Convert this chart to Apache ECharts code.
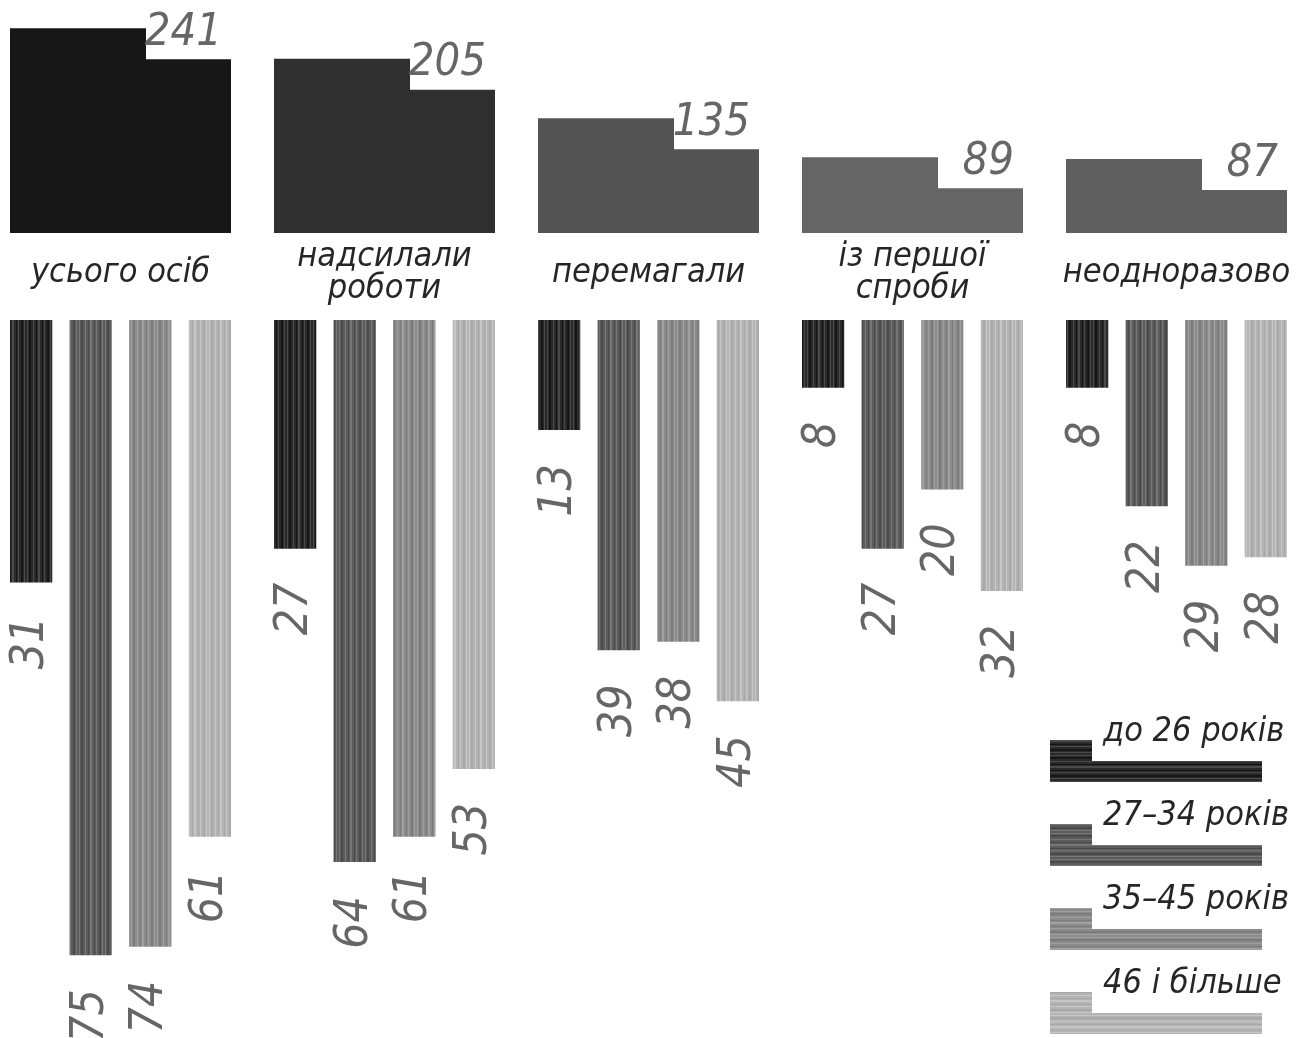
<!DOCTYPE html>
<html>
<head>
<meta charset="utf-8">
<script src="https://cdn.jsdelivr.net/npm/echarts@6/dist/echarts.min.js"></script>
<style>
  html, body { margin: 0; padding: 0; background: #ffffff; }
  #chart { width: 1309px; height: 1038px; }
</style>
</head>
<body>
<div id="chart"></div>
<script>
// Categories of participants and totals per category
const categories = ['усього осіб', 'надсилали\nроботи', 'перемагали', 'із першої\nспроби', 'неодноразово'];
const totals = [241, 205, 135, 89, 87];

// Age groups and counts per category
const ageGroups = ['до 26 років', '27–34 років', '35–45 років', '46 і більше'];
const under26 = [31, 27, 13, 8, 8];
const age27to34 = [75, 64, 39, 27, 22];
const age35to45 = [74, 61, 38, 20, 29];
const age46plus = [61, 53, 45, 32, 28];

const ageSeries = [under26, age27to34, age35to45, age46plus];

const NUM_FONT = "'Liberation Sans Narrow', 'DejaVu Sans Condensed', sans-serif";
const TEXT_FONT = "'Liberation Sans Narrow', 'DejaVu Sans Condensed', sans-serif";

const totalColors = ['#171717', '#2f2f2f', '#535353', '#656565', '#5f5f5f'];

// Striped textures: [base, light stripe, dark stripe]
const shades = [
  ['#2a2a2a', '#4a4a4a', '#161616'],
  ['#5c5c5c', '#767676', '#4a4a4a'],
  ['#8b8b8b', '#a0a0a0', '#7c7c7c'],
  ['#b4b4b4', '#c6c6c6', '#a8a8a8']
];

function stripePattern(base, light, dark, vertical) {
  const n = 26;
  const c = document.createElement('canvas');
  c.width = vertical ? n : 4;
  c.height = vertical ? 4 : n;
  const g = c.getContext('2d');
  g.fillStyle = base;
  g.fillRect(0, 0, c.width, c.height);
  const marks = [[1, 1, light], [3, 2, dark], [7, 1, light], [10, 1, dark], [12, 2, light], [16, 1, dark], [18, 1, light], [21, 2, dark], [24, 1, light]];
  marks.forEach(([p, w, col]) => {
    g.fillStyle = col;
    if (vertical) g.fillRect(p, 0, w, c.height);
    else g.fillRect(0, p, c.width, w);
  });
  return { image: c, repeat: 'repeat' };
}

const barFills = shades.map(s => stripePattern(s[0], s[1], s[2], true));
const legendFills = shades.map(s => stripePattern(s[0], s[1], s[2], false));

const chart = echarts.init(document.getElementById('chart'), null, { renderer: 'canvas' });

const gridLeft = -11.5;
const gridWidth = 1320;

const series = [
  {
    type: 'custom',
    xAxisIndex: 0,
    yAxisIndex: 0,
    data: totals.map((v, i) => [i, v]),
    renderItem(params, api) {
      const i = params.dataIndex;
      const val = api.value(1);
      const top = api.coord([i, val]);
      const base = api.coord([i, 0]);
      const band = api.size([1, 0])[0];
      const w = band * 221 / 264;
      const x0 = top[0] - w / 2;
      const x1 = top[0] + w / 2;
      const xn = x0 + w * 136 / 221;
      const notch = 31;
      return {
        type: 'group',
        children: [
          {
            type: 'polygon',
            shape: { points: [[x0, base[1]], [x0, top[1]], [xn, top[1]], [xn, top[1] + notch], [x1, top[1] + notch], [x1, base[1]]] },
            style: { fill: totalColors[i] }
          },
          {
            type: 'text',
            x: x1 - 9,
            y: top[1] + 5,
            style: {
              text: String(val),
              fill: '#666666',
              font: 'italic 45px ' + NUM_FONT,
              align: 'right',
              verticalAlign: 'middle'
            }
          }
        ]
      };
    }
  }
];

ageSeries.forEach((arr, k) => {
  series.push({
    name: ageGroups[k],
    type: 'bar',
    xAxisIndex: 1,
    yAxisIndex: 1,
    data: arr,
    barCategoryGap: '16.3%',
    barGap: '41%',
    itemStyle: { color: barFills[k] },
    label: {
      show: true,
      position: 'bottom',
      distance: 34,
      rotate: 90,
      align: 'right',
      verticalAlign: 'middle',
      color: '#666666',
      fontStyle: 'italic',
      fontSize: 46,
      fontFamily: NUM_FONT
    }
  });
});

// Legend drawn as stepped swatches with captions
const legendGraphics = [];
ageGroups.forEach((name, k) => {
  const top = 740 + k * 84;
  legendGraphics.push({
    type: 'polygon',
    shape: { points: [[1050, top], [1092, top], [1092, top + 21], [1262, top + 21], [1262, top + 42], [1050, top + 42]] },
    style: { fill: legendFills[k] }
  });
  legendGraphics.push({
    type: 'text',
    x: 1103,
    y: top - 8,
    style: {
      text: name,
      fill: '#262626',
      font: 'italic 34px ' + TEXT_FONT,
      align: 'left',
      verticalAlign: 'middle'
    }
  });
});

chart.setOption({
  backgroundColor: '#ffffff',
  animation: false,
  grid: [
    { left: gridLeft, width: gridWidth, top: 12, height: 221, outerBoundsMode: 'none', containLabel: false },
    { left: gridLeft, width: gridWidth, top: 320, height: 677.6, outerBoundsMode: 'none', containLabel: false }
  ],
  xAxis: [
    {
      gridIndex: 0,
      type: 'category',
      data: categories,
      axisLine: { show: false },
      axisTick: { show: false },
      axisLabel: {
        interval: 0,
        margin: 40,
        verticalAlign: 'middle',
        color: '#262626',
        fontStyle: 'italic',
        fontSize: 34,
        lineHeight: 32,
        fontFamily: TEXT_FONT
      }
    },
    {
      gridIndex: 1,
      type: 'category',
      data: categories,
      axisLine: { show: false },
      axisTick: { show: false },
      axisLabel: { show: false }
    }
  ],
  yAxis: [
    { gridIndex: 0, type: 'value', min: 0, max: 260, show: false },
    { gridIndex: 1, type: 'value', min: 0, max: 80, inverse: true, show: false }
  ],
  graphic: legendGraphics,
  series: series
});
</script>
</body>
</html>
